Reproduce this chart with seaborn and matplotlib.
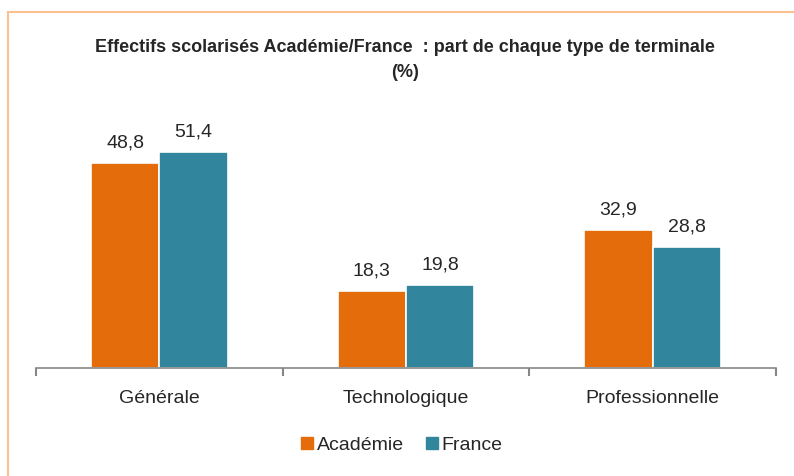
import pandas as pd
import matplotlib.pyplot as plt
import seaborn as sns
from matplotlib.patches import Rectangle
from matplotlib.lines import Line2D

# Data
categories = ["Générale", "Technologique", "Professionnelle"]
academie = [48.8, 18.3, 32.9]
france = [51.4, 19.8, 28.8]
series = ["Académie", "France"]
colors = ["#E46C0A", "#31859C"]

df = pd.DataFrame({
    "type": categories * 2,
    "zone": [series[0]] * 3 + [series[1]] * 3,
    "value": academie + france,
})

sns.set_style("white")
plt.rcParams["font.family"] = ["Liberation Sans", "DejaVu Sans"]

fig = plt.figure(figsize=(7.94, 4.76), dpi=100)
ax = fig.add_axes([36 / 794, 0.2275, 740 / 794, 0.5294])

# peach frame around the chart area
fig.patches.append(Rectangle((8 / 794, -0.1), 1.2, (476 - 12) / 476 + 0.1,
                             transform=fig.transFigure, fill=False,
                             edgecolor="#FAC090", linewidth=1.5))

sns.barplot(data=df, x="type", y="value", hue="zone", order=categories,
            hue_order=series, palette=colors, width=0.555, edgecolor="white",
            linewidth=1.2, saturation=1, ax=ax, legend=False)

# value labels with comma decimals
for container in ax.containers:
    ax.bar_label(container, labels=[f"{v.get_height():.1f}".replace(".", ",") for v in container],
                 padding=8, fontsize=14)

ax.set_ylim(0, 60)
ax.set_xlim(-0.5, 2.5)
ax.set_xlabel("")
ax.set_ylabel("")
ax.set_yticks([])
for s in ["top", "right", "left"]:
    ax.spines[s].set_visible(False)
ax.spines["bottom"].set_color("#868686")
ax.spines["bottom"].set_linewidth(1.2)
ax.tick_params(axis="x", which="major", length=0, pad=16, labelsize=14)
ax.set_xticks([-0.5, 0.5, 1.5, 2.5], minor=True)
ax.tick_params(axis="x", which="minor", bottom=True, length=6, color="#868686", width=1.5)

fig.text(0.51, 0.874, "Effectifs scolarisés Académie/France  : part de chaque type de terminale\n(%)",
         ha="center", va="center", fontsize=13, fontweight="bold", linespacing=1.55)

handles = [Line2D([], [], marker="s", linestyle="", markersize=9, color=c) for c in colors]
fig.legend(handles, series, loc="center", bbox_to_anchor=(0.505, 0.065), ncol=2,
           frameon=False, fontsize=14, handletextpad=0.1, columnspacing=1.0,
           handlelength=0.8)

fig.savefig("out.png", dpi=100)
